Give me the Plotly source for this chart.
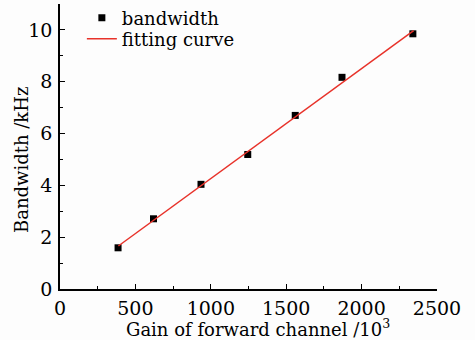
import plotly.graph_objects as go

gain = [385, 620, 935, 1245, 1560, 1870, 2340]
bandwidth = [1.59, 2.71, 4.04, 5.19, 6.70, 8.17, 9.85]
fit_x = [387, 2345]
fit_y = [1.66, 9.97]

font = "'DejaVu Serif', 'Liberation Serif', serif"

fig = go.Figure()
fig.add_trace(go.Scatter(x=gain, y=bandwidth, mode="markers", name="bandwidth",
                         marker=dict(symbol="square", size=7, color="black"), legend="legend"))
fig.add_trace(go.Scatter(x=fit_x, y=fit_y, mode="lines", name="fitting curve",
                         line=dict(color="#e8322a", width=1.5), legend="legend2"))

axis_common = dict(showgrid=False, zeroline=False, showline=True, linecolor="black",
                   linewidth=1.5, ticks="inside", ticklen=5, tickwidth=1.2, tickcolor="black",
                   tickfont=dict(family=font, size=19, color="black"), mirror=False)

fig.update_xaxes(range=[0, 2500], dtick=500, tick0=0, ticklabelstandoff=1,
                 minor=dict(ticks="inside", ticklen=3, dtick=250, tickcolor="black", tickwidth=1.2),
                 **axis_common)
fig.update_yaxes(range=[0, 11], dtick=2, tick0=0, tickvals=[0, 2, 4, 6, 8, 10], ticklabelstandoff=2,
                 minor=dict(ticks="inside", ticklen=3, tickvals=[1, 3, 5, 7, 9], tickcolor="black", tickwidth=1.2),
                 **axis_common)

fig.add_annotation(text="Gain of forward channel /10<sup>3</sup>", xref="paper", yref="paper",
                   x=(257.5 - 60) / 377, y=-(328 - 289) / 285, showarrow=False,
                   font=dict(family=font, size=18, color="black"), xanchor="center", yanchor="middle")
fig.add_annotation(text="Bandwidth /kHz", xref="paper", yref="paper",
                   x=-(60 - 22) / 377, y=(289 - 160) / 285, showarrow=False, textangle=-90,
                   font=dict(family=font, size=18, color="black"), xanchor="center", yanchor="middle")

leg_common = dict(x=0.058, xanchor="left", yanchor="middle", bgcolor="rgba(0,0,0,0)",
                  font=dict(family=font, size=18, color="black"), itemwidth=30)

fig.update_layout(
    width=475, height=340,
    margin=dict(l=60, r=38, t=4, b=51, autoexpand=False),
    paper_bgcolor="#fdfdfd", plot_bgcolor="#fdfdfd",
    showlegend=True,
    legend=dict(y=(289 - 18) / 285, **leg_common),
    legend2=dict(y=(289 - 39) / 285, **leg_common),
)

fig.write_html("out.html")
